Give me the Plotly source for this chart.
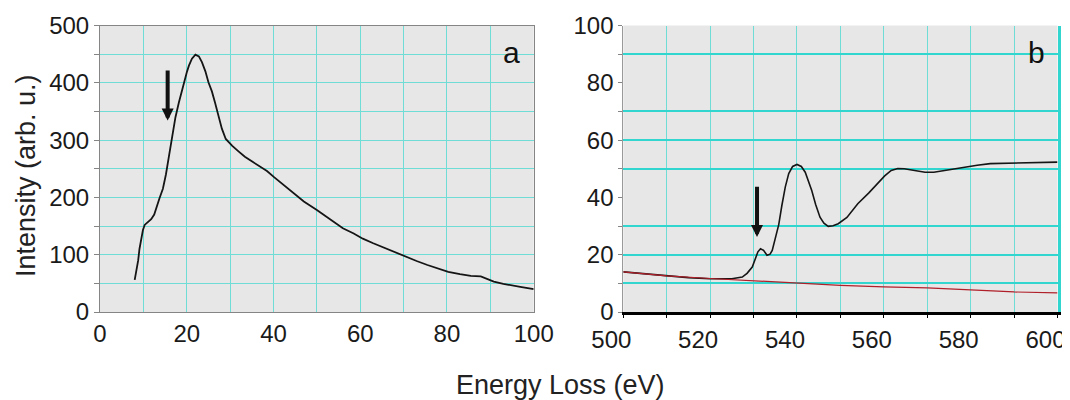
import plotly.graph_objects as go

# ---------------- data ----------------
# Panel a: low-loss spectrum
a_energy = [8.0, 8.4, 8.8, 9.1, 9.5, 9.9, 10.3, 11.0, 11.8, 12.5, 13.2, 13.7, 14.5, 15.2, 15.9,
            16.7, 17.4, 18.2, 18.8, 19.4, 20.0, 20.5, 21.2, 22.0, 22.8, 23.5, 24.3, 25.0, 25.8,
            26.5, 27.3, 28.1, 29.0, 30.5, 32.0, 33.4, 35.0, 37.0, 38.5, 40.2, 42.5, 44.7, 47.0,
            50.0, 53.0, 56.0, 58.5, 60.6, 63.0, 65.5, 68.0, 70.4, 73.0, 75.5, 78.0, 80.3, 83.0,
            85.5, 87.8, 89.5, 90.8, 93.0, 95.0, 96.9, 100.0]
a_intensity = [56, 70, 90, 110, 130, 143, 152, 156, 162, 170, 188, 198, 215, 240, 272,
               308, 340, 366, 385, 401, 418, 430, 442, 449, 446, 436, 420, 401, 385,
               366, 345, 320, 302, 290, 280, 271, 263, 254, 246, 235, 221, 207, 193,
               178, 162, 146, 137, 128, 120, 112, 104, 96, 89, 82, 76, 70, 66,
               63, 62, 57, 53, 49, 46, 44, 40]

# Panel b: O K-edge
b_energy = [500, 505, 510, 515, 520, 525, 527.4, 528.5, 529.7, 530.5, 531.0, 531.6, 532.3, 533.1,
            533.8, 534.3, 535.0, 535.8, 536.5, 537.3, 538.1, 539.0, 540.0, 541.0, 541.9, 542.7,
            543.4, 544.3, 545.3, 546.2, 547.2, 548.3, 549.5, 551.5, 554.0, 556.5, 558.6, 560.2,
            561.7, 563.2, 564.7, 566.2, 567.7, 569.5, 571.5, 573.8, 576.0, 578.4, 581.5, 584.5,
            587.5, 590.6, 595.0, 600.0]
b_intensity = [14.0, 13.3, 12.5, 12.0, 11.6, 11.6, 12.2, 13.5, 15.7, 19.2, 21.0, 22.1, 21.5, 19.8,
               20.2, 21.5, 26.0, 30.5, 37.0, 43.6, 48.3, 50.8, 51.5, 50.8, 48.8, 45.5,
               42.4, 37.5, 33.1, 31.0, 29.9, 30.1, 30.8, 33.0, 37.8, 41.5, 44.8, 47.5,
               49.4, 50.1, 50.0, 49.6, 49.1, 48.8, 48.8, 49.4, 50.0, 50.4, 51.2, 51.8,
               51.9, 52.0, 52.1, 52.3]

# Panel b: background fit
bg_energy = [500, 510, 520, 530, 540, 550, 560, 570, 580, 590, 600]
bg_intensity = [14.0, 12.6, 11.7, 10.9, 10.0, 9.3, 8.8, 8.4, 7.7, 7.0, 6.7]

# Arrow markers (tip, tail) in data units
arrow_a = dict(x=15.6, tip=334, tail=424)
arrow_b = dict(x=530.8, tip=26.2, tail=44.2)

a_xticks = [0, 20, 40, 60, 80, 100]
a_yticks = [0, 100, 200, 300, 400, 500]
b_xticks = [500, 520, 540, 560, 580, 600]
b_yticks = [0, 20, 40, 60, 80, 100]
b_ygrid = [10, 20, 30, 50, 60, 70, 90, 100]

# ---------------- style ----------------
# The page places the figure 8 px from the top-left corner, so the figure is
# 8 px smaller than the window and page-pixel positions are shifted by 8.
OFF = 8
W, H = 1062, 392
FONT = "Liberation Sans, Arial, sans-serif"
BG = "#E8E7E7"
GRID_THIN = "#6FDCD6"
GRID_THICK = "#33D6CE"
TICKSIZE = 24


def px(x):
    return (x - OFF) / W


def py(y):
    return 1 - (y - OFF) / H


fig = go.Figure()
fig.add_trace(go.Scatter(x=a_energy, y=a_intensity, mode="lines",
                         line=dict(color="#151515", width=1.8), xaxis="x", yaxis="y"))
# background fit drawn on the overlaid grid axis (same 0-100 range as y2)
fig.add_trace(go.Scatter(x=bg_energy, y=bg_intensity, mode="lines",
                         line=dict(color="#B0202A", width=1.2), xaxis="x2", yaxis="y3"))
fig.add_trace(go.Scatter(x=b_energy, y=b_intensity, mode="lines",
                         line=dict(color="#151515", width=1.6), xaxis="x2", yaxis="y2"))

ydom = [py(312), py(25.5)]

fig.update_layout(
    width=W, height=H,
    margin=dict(l=0, r=0, t=0, b=0, pad=0, autoexpand=False),
    paper_bgcolor="white", plot_bgcolor=BG,
    showlegend=False,
    font=dict(family=FONT, size=TICKSIZE, color="#1a1a1a"),
    xaxis=dict(domain=[px(100), px(533.7)], range=[0, 100], anchor="y", automargin=False,
               tickmode="array", tickvals=a_xticks,
               showgrid=True, gridcolor=GRID_THIN, gridwidth=1,
               minor=dict(dtick=10, tick0=0, showgrid=True, gridcolor=GRID_THIN, gridwidth=1),
               showline=True, mirror=True, linecolor="#858585", linewidth=1,
               ticks="", zeroline=False, ticklabelstandoff=0),
    yaxis=dict(domain=ydom, range=[0, 500], anchor="x", automargin=False,
               tickmode="array", tickvals=a_yticks,
               showgrid=True, gridcolor=GRID_THIN, gridwidth=1,
               ticks="outside", ticklen=5, tickcolor="#858585",
               minor=dict(dtick=50, tick0=0, showgrid=True, gridcolor=GRID_THIN, gridwidth=1,
                          ticks="outside", ticklen=5, tickcolor="#858585"),
               showline=True, mirror=True, linecolor="#858585", linewidth=1,
               zeroline=False),
    xaxis2=dict(domain=[px(623.3), px(1057.5)], range=[500, 600], anchor="y2", automargin=False,
                tickmode="array", tickvals=b_xticks,
                showgrid=True, gridcolor=GRID_THIN, gridwidth=1,
                minor=dict(dtick=10, tick0=500, showgrid=True, gridcolor=GRID_THIN, gridwidth=1,
                           ticks="outside", ticklen=3, tickcolor="black"),
                ticks="outside", ticklen=3, tickcolor="black",
                showline=True, linecolor="black", linewidth=3,
                zeroline=False, ticklabelshift=-12, ticklabelstandoff=1),
    yaxis2=dict(domain=ydom, range=[0, 100], anchor="x2", automargin=False,
                tickmode="array", tickvals=b_yticks, showgrid=False,
                ticks="outside", ticklen=4, tickcolor="#858585",
                minor=dict(dtick=10, tick0=0, ticks="outside", ticklen=4,
                           tickcolor="#858585", showgrid=False),
                showline=True, linecolor="#999999", linewidth=1, zeroline=False),
    yaxis3=dict(overlaying="y2", anchor="x2", side="right", range=[0, 100], automargin=False,
                tickmode="array", tickvals=b_ygrid, showticklabels=False, ticks="",
                showgrid=True, gridcolor=GRID_THICK, gridwidth=2,
                showline=True, linecolor=GRID_THICK, linewidth=3, zeroline=False),
)

annotations = [
    dict(x=arrow_a["x"], y=arrow_a["tip"], ax=arrow_a["x"], ay=arrow_a["tail"],
         xref="x", yref="y", axref="x", ayref="y", text="", showarrow=True,
         arrowhead=2, arrowsize=0.6, arrowwidth=4, arrowcolor="#111111"),
    dict(x=arrow_b["x"], y=arrow_b["tip"], ax=arrow_b["x"], ay=arrow_b["tail"],
         xref="x2", yref="y2", axref="x2", ayref="y2", text="", showarrow=True,
         arrowhead=2, arrowsize=0.6, arrowwidth=4, arrowcolor="#111111"),
    dict(text="a", x=px(511), y=py(53), xref="paper", yref="paper",
         xanchor="center", yanchor="middle", showarrow=False,
         font=dict(size=30, color="#111111")),
    dict(text="b", x=px(1036), y=py(53), xref="paper", yref="paper",
         xanchor="center", yanchor="middle", showarrow=False,
         font=dict(size=30, color="#111111")),
    dict(text="Energy Loss (eV)", x=px(560), y=py(385), xref="paper", yref="paper",
         xanchor="center", yanchor="middle", showarrow=False,
         font=dict(size=27, color="#222222")),
    dict(text="Intensity (arb. u.)", x=px(26), y=py(176), xref="paper", yref="paper",
         xanchor="center", yanchor="middle", showarrow=False, textangle=-90,
         font=dict(size=27, color="#222222")),
]
fig.update_layout(annotations=annotations)

fig.write_html("out.html")
